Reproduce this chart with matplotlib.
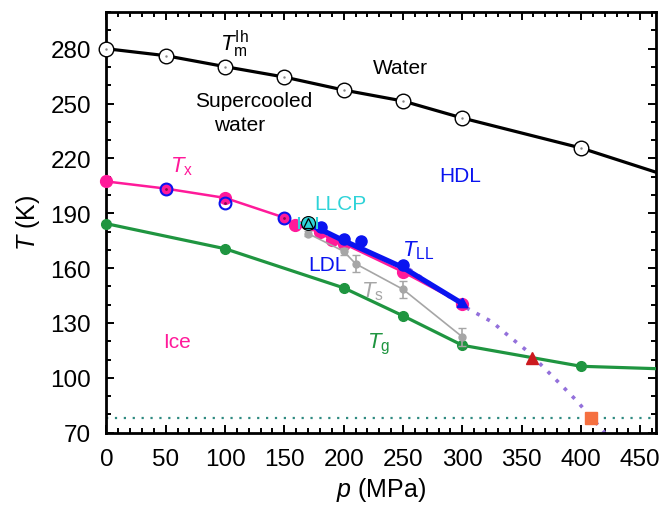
import matplotlib
matplotlib.use("Agg")
import matplotlib.pyplot as plt
import numpy as np
from matplotlib.ticker import MultipleLocator

plt.rcParams['font.family'] = ['Liberation Sans', 'DejaVu Sans']
plt.rcParams['mathtext.fontset'] = 'custom'
plt.rcParams['mathtext.rm'] = 'Liberation Sans'
plt.rcParams['mathtext.it'] = 'Liberation Sans:italic'
plt.rcParams['mathtext.bf'] = 'Liberation Sans:bold'

# ---- data ----
tm_p = [0, 50, 100, 150, 200, 250, 300, 400]
tm_T = [280.0, 276.2, 270.2, 264.5, 257.4, 251.4, 242.1, 225.7]
tm_line_p = [0, 50, 100, 150, 200, 250, 300, 400, 463]
tm_line_T = [280.0, 276.2, 270.2, 264.5, 257.4, 251.4, 242.1, 225.7, 212.5]

tx_p = [0, 50, 100, 150, 159, 180, 190, 200, 250, 300]
tx_T = [207.4, 203.5, 198.4, 187.6, 183.6, 179.8, 175.2, 173.4, 157.9, 140.6]

ring_p = [50, 100, 150]
ring_T = [203.5, 195.6, 187.6]

tll_dot_p = [181, 200, 215, 250]
tll_dot_T = [182.3, 175.8, 174.7, 161.5]
tll_line_p = [170, 181, 200, 250, 300]
tll_line_T = [184.0, 181.0, 175.0, 160.3, 140.6]

llcp_p, llcp_T, llcp_perr = 170, 184.5, 7.5

ts_p = [170, 200, 210, 250, 300]
ts_T = [178.9, 169.2, 162.4, 148.4, 122.4]
ts_err = [1.5, 2.0, 4.5, 4.5, 5.0]

tg_p = [0, 100, 200, 250, 300, 400]
tg_T = [184.3, 170.6, 149.2, 133.9, 117.8, 106.3]
tg_line_p = [0, 100, 200, 250, 300, 400, 463]
tg_line_T = [184.3, 170.6, 149.2, 133.9, 117.8, 106.3, 105.0]

purple_p = [255, 300, 325, 340, 355, 369, 383, 396, 409, 420]
purple_T = [159.5, 139.5, 130.6, 122.4, 114.5, 105.4, 96.3, 87.7, 78.1, 70.0]

tri_p, tri_T = 359, 110.9
sq_p, sq_T = 408.6, 78.1
hline_T = 78

pink = '#ff1a9a'
blue = '#0a14f0'
green = '#1f9540'
gray = '#a6a6a6'
cyan = '#2ed3d8'

fig = plt.figure(figsize=(6.65, 5.06), dpi=100)
ax = fig.add_axes([0.160, 0.143, 0.826, 0.831])

ax.axhline(hline_T, color='#2e8a80', lw=1.6, ls=(0, (1, 3)), zorder=1)
ax.plot(purple_p, purple_T, color='#9370db', lw=2.6, ls=(0, (1, 2.2)), zorder=2)

# Tm
ax.plot(tm_line_p, tm_line_T, color='black', lw=2.3, zorder=3)
ax.plot(tm_p, tm_T, 'o', ms=10.5, mfc='white', mec='black', mew=1.0, zorder=4, clip_on=False)
ax.plot(tm_p, tm_T, '.', ms=1.5, color='#888888', zorder=5, clip_on=False)

# Tg
ax.plot(tg_line_p, tg_line_T, color=green, lw=2.3, zorder=3)
ax.plot(tg_p, tg_T, 'o', ms=7, color=green, zorder=4, clip_on=False)

# Tx
ax.plot(tx_p, tx_T, color=pink, lw=1.8, zorder=3)
ax.plot(tx_p, tx_T, 'o', ms=8.5, color=pink, zorder=4, clip_on=False)
ax.plot(ring_p, ring_T, 'o', ms=8.5, mfc='none', mec=blue, mew=1.5, zorder=6)
ax.plot(ring_p, ring_T, '.', ms=2, color='#8a0a50', zorder=6)

# Ts
ax.errorbar(ts_p, ts_T, yerr=ts_err, color=gray, lw=1.2, marker='o', ms=5,
            capsize=3, elinewidth=1.2, zorder=5)

# TLL
ax.plot(tll_line_p, tll_line_T, color=blue, lw=3.8, zorder=6, solid_capstyle='butt')
ax.plot([tll_line_p[-1]], [tll_line_T[-1]], marker=(3, 0, -121.5), ms=9, color=blue, zorder=7)
ax.plot(tll_dot_p, tll_dot_T, 'o', ms=8, color=blue, zorder=7)

# LLCP
ax.errorbar([llcp_p], [llcp_T], xerr=[llcp_perr], fmt='none', ecolor=cyan,
            elinewidth=1.5, capsize=4, capthick=1.5, zorder=8)
ax.plot([llcp_p], [llcp_T], 'o', ms=10, mfc=cyan, mec='black', mew=0.8, zorder=9)
ax.plot([llcp_p], [llcp_T], '^', ms=7, mfc='none', mec='black', mew=0.9, zorder=10)

ax.plot([tri_p], [tri_T], '^', ms=9, color='#cc1a1f', zorder=8)
ax.plot([sq_p], [sq_T], 's', ms=8.5, color='#f57040', zorder=8)

# labels
fs = 15
fsm = 16
ax.text(108.4, 283, r'$T_{\mathrm{m}}^{\mathrm{Ih}}$', fontsize=fsm, ha='center', va='center')
ax.text(247.6, 270, 'Water', fontsize=fs, ha='center', va='center')
ax.text(124.2, 251.6, 'Supercooled', fontsize=fs, ha='center', va='center')
ax.text(112.6, 238.4, 'water', fontsize=fs, ha='center', va='center')
ax.text(63, 216, r'$T_{\mathrm{x}}$', fontsize=fsm, ha='center', va='center', color=pink)
ax.text(298, 210.6, 'HDL', fontsize=fs, ha='center', va='center', color=blue)
ax.text(197, 195.3, 'LLCP', fontsize=fs, ha='center', va='center', color=cyan)
ax.text(263, 169.8, r'$T_{\mathrm{LL}}$', fontsize=fsm, ha='center', va='center', color=blue)
ax.text(186, 162, 'LDL', fontsize=fs, ha='center', va='center', color=blue)
ax.text(224, 147.5, r'$T_{\mathrm{s}}$', fontsize=fsm, ha='center', va='center', color=gray)
ax.text(229, 119, r'$T_{\mathrm{g}}$', fontsize=fsm, ha='center', va='center', color=green)
ax.text(59.5, 120, 'Ice', fontsize=fs, ha='center', va='center', color=pink)

ax.set_xlim(0, 463)
ax.set_ylim(70, 300)
ax.xaxis.set_major_locator(MultipleLocator(50))
ax.xaxis.set_minor_locator(MultipleLocator(10))
ax.set_yticks(np.arange(70, 281, 30))
ax.yaxis.set_minor_locator(MultipleLocator(10))
ax.tick_params(which='both', direction='in', top=True, right=True, labelsize=17.5, width=1.4)
ax.tick_params(which='major', length=6)
ax.tick_params(which='minor', length=3.5)
ax.tick_params(axis='x', pad=11)
ax.tick_params(axis='y', pad=11)
for s in ax.spines.values():
    s.set_linewidth(2)

ax.set_xlabel(r'$p$ (MPa)', fontsize=18, labelpad=4)
ax.set_ylabel(r'$T$ (K)', fontsize=18, labelpad=6)

fig.savefig('out.png', dpi=100)
